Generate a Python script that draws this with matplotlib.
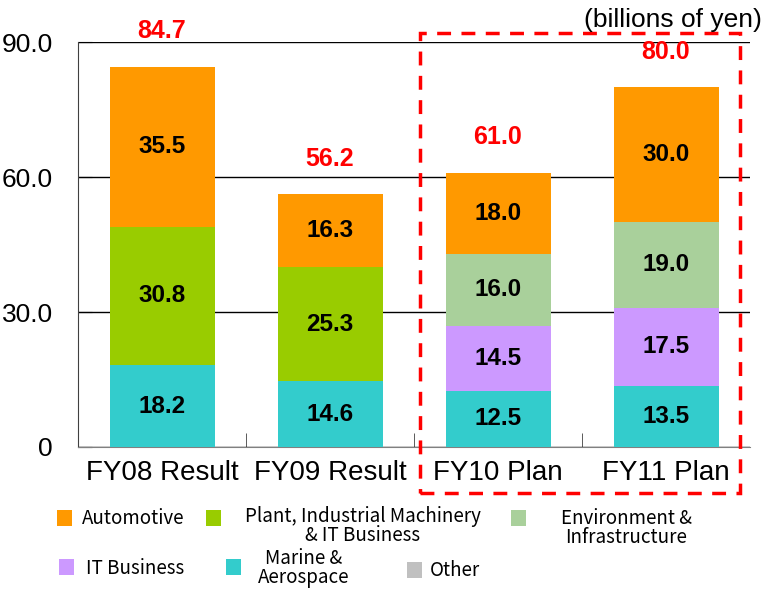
import matplotlib
matplotlib.use('Agg')
import matplotlib.pyplot as plt
from matplotlib.patches import Rectangle
import numpy as np

categories = ['FY08 Result', 'FY09 Result', 'FY10 Plan', 'FY11 Plan']
totals = [84.7, 56.2, 61.0, 80.0]

# stacked bottom-to-top
segments = ['Marine & Aerospace', 'IT Business', 'Plant, Industrial Machinery & IT Business',
            'Environment & Infrastructure', 'Automotive', 'Other']
marine = [18.2, 14.6, 12.5, 13.5]
it_business = [0, 0, 14.5, 17.5]
plant = [30.8, 25.3, 0, 0]
environment = [0, 0, 16.0, 19.0]
automotive = [35.5, 16.3, 18.0, 30.0]
other = [0, 0, 0, 0]
series = [marine, it_business, plant, environment, automotive, other]

colors = {
    'Automotive': '#FF9900',
    'Plant, Industrial Machinery & IT Business': '#99CC00',
    'Environment & Infrastructure': '#A9D09B',
    'IT Business': '#CC99FF',
    'Marine & Aerospace': '#33CCCC',
    'Other': '#C0C0C0',
}

W, H = 767, 590
fig = plt.figure(figsize=(W / 100, H / 100), dpi=100)
fig.patch.set_facecolor('white')
# axes: x 78..750 px, y 42..447 px
ax = fig.add_axes([78 / W, 1 - 447 / H, (750 - 78) / W, (447 - 42) / H])

x = np.arange(len(categories))
bottom = np.zeros(len(categories))
for name, vals in zip(segments, series):
    vals = np.array(vals, dtype=float)
    ax.bar(x, vals, bottom=bottom, width=0.625, color=colors[name], zorder=3)
    for xi, b, v in zip(x, bottom, vals):
        if v > 0:
            ax.text(xi, b + v / 2, f'{v:.1f}', ha='center', va='center',
                    fontsize=17.5, fontweight='bold', color='black',
                    family='Liberation Sans', zorder=4)
    bottom += vals

for xi, t in zip(x, totals):
    ax.text(xi, t + 7.8, f'{t:.1f}', ha='center', va='center', fontsize=18,
            fontweight='bold', color='#FF0000', family='Liberation Sans')

ax.set_xlim(-0.5, 3.5)
ax.set_ylim(0, 90)
ax.set_yticks([0, 30, 60, 90])
ax.set_yticklabels(['0', '30.0', '60.0', '90.0'], fontsize=19, family='Liberation Sans')
ax.set_xticks(x)
ax.set_xticklabels(categories, fontsize=20, family='Liberation Sans')
ax.set_xticks([0.5, 1.5, 2.5], minor=True)
ax.tick_params(axis='x', which='major', length=0, pad=9)
ax.tick_params(axis='x', which='minor', direction='in', length=10, color='#404040')
ax.tick_params(axis='y', direction='in', length=10, pad=18, color='black')

ax.yaxis.grid(True, color='black', linewidth=1.0, zorder=0)
ax.set_axisbelow(True)
ax.spines['top'].set_visible(False)
ax.spines['right'].set_visible(False)
ax.spines['left'].set_color('#404040')
ax.spines['bottom'].set_color('#808080')

fig.text(762 / W, 1 - 20 / H, '(billions of yen)', ha='right', va='center',
         fontsize=19, family='Liberation Sans')

# red dashed frame around plan years
ax.add_patch(Rectangle((1.536, -10.2), 3.44 - 1.536, 92.0 + 10.2, fill=False,
                       edgecolor='#FF0000', linestyle=(0, (4, 3)), linewidth=2.5,
                       clip_on=False, zorder=5))

# legend built by hand: (name, square x, square y, label, text x, text y, align)
leg_font = dict(fontsize=13.5, family=['Noto Sans CJK JP', 'DejaVu Sans'], color='black')
legend_items = [
    ('Automotive', 57, 518, 'Automotive', 82, 519, 'left'),
    ('Plant, Industrial Machinery & IT Business', 206, 518,
     'Plant, Industrial Machinery\n& IT Business', 363, 526, 'center'),
    ('Environment & Infrastructure', 511, 518, 'Environment &\nInfrastructure', 626, 528, 'center'),
    ('IT Business', 59, 567, 'IT Business', 86, 568, 'left'),
    ('Marine & Aerospace', 226, 567, 'Marine &\nAerospace', 304, 568, 'center'),
    ('Other', 407, 570, 'Other', 430, 571, 'left'),
]
for name, sx, sy, label, tx, ty, ha in legend_items:
    fig.add_artist(Rectangle((sx / W, 1 - (sy + 8) / H), 15 / W, 16 / H,
                             transform=fig.transFigure, facecolor=colors[name],
                             edgecolor='none'))
    fig.text(tx / W, 1 - ty / H, label, ha=ha, va='center',
             multialignment='center', linespacing=0.92, **leg_font)

fig.savefig('out.png', dpi=100, facecolor='white')
plt.close(fig)
